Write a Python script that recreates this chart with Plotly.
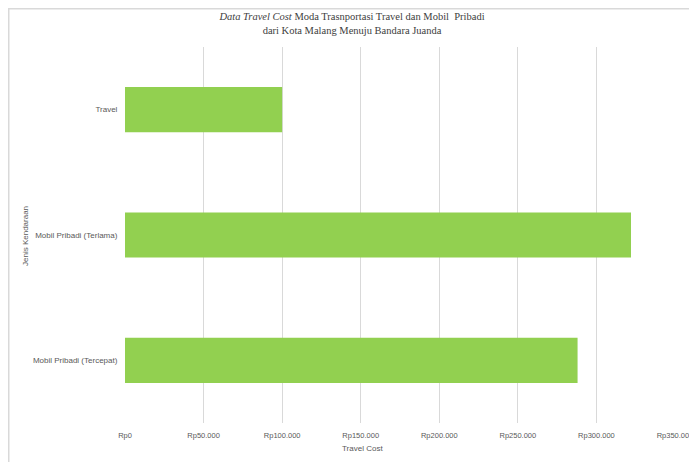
import plotly.graph_objects as go

categories = ["Mobil Pribadi (Tercepat)", "Mobil Pribadi (Terlama)", "Travel"]
values = [288000, 322000, 100000]
tick_vals = [0, 50000, 100000, 150000, 200000, 250000, 300000, 350000]
tick_text = ["Rp0", "Rp50.000", "Rp100.000", "Rp150.000", "Rp200.000",
             "Rp250.000", "Rp300.000", "Rp350.000"]

# page has an 8px body margin; work in page coordinates and shift
OFF = 8
W, H = 697 - OFF, 462 - OFF
L, R, T, B = 125 - OFF, 22, 47 - OFF, 39
pw, ph = W - L - R, H - T - B

def px_x(x):
    return (x - OFF - L) / pw

def px_y(y):
    return (H - B - (y - OFF)) / ph

gray = "#595959"
fig = go.Figure(go.Bar(
    x=values, y=categories, orientation="h",
    marker=dict(color="#92D050", line=dict(width=0)),
))

fig.update_layout(
    width=W, height=H,
    margin=dict(l=L, r=R, t=T, b=B, autoexpand=False),
    paper_bgcolor="white", plot_bgcolor="white",
    bargap=0.64,
    showlegend=False,
    font=dict(family="Liberation Sans, Arial", size=8, color=gray),
    title=dict(
        text="<i>Data Travel Cost</i> Moda Trasnportasi Travel dan Mobil  Pribadi<br>dari Kota Malang Menuju Bandara Juanda",
        font=dict(family="Liberation Serif, serif", size=10.5, color="#404040"),
        x=(352 - OFF) / W, xanchor="center", xref="container",
        y=1 - 12 / H, yanchor="top", yref="container",
        automargin=False,
    ),
    xaxis=dict(
        range=[0, 350000], tickvals=tick_vals, ticktext=tick_text,
        showgrid=True, gridcolor="#d9d9d9", gridwidth=1,
        zeroline=False, showline=False,
        ticks="outside", ticklen=5, tickcolor="rgba(0,0,0,0)",
        tickfont=dict(size=7.5, color=gray),
        fixedrange=True, automargin=False,
    ),
    yaxis=dict(
        categoryorder="array", categoryarray=categories,
        showgrid=False, zeroline=False, showline=False,
        ticks="outside", ticklen=5, tickcolor="rgba(0,0,0,0)",
        tickfont=dict(size=8, color=gray),
        automargin=False,
    ),
    shapes=[dict(
        type="rect", xref="paper", yref="paper",
        x0=px_x(OFF + 0.75), x1=px_x(710), y0=px_y(480), y1=px_y(OFF + 0.75),
        line=dict(color="#d9d9d9", width=1.5), fillcolor="rgba(0,0,0,0)",
        layer="below",
    )],
    annotations=[
        dict(text="Travel Cost", xref="paper", yref="paper",
             x=px_x(362), y=px_y(449), showarrow=False,
             font=dict(size=8, color=gray), xanchor="center", yanchor="middle"),
        dict(text="Jenis Kendaraan", xref="paper", yref="paper",
             x=px_x(25), y=px_y(236), showarrow=False, textangle=-90,
             font=dict(size=8, color=gray), xanchor="center", yanchor="middle"),
    ],
)

fig.write_html("out.html")
